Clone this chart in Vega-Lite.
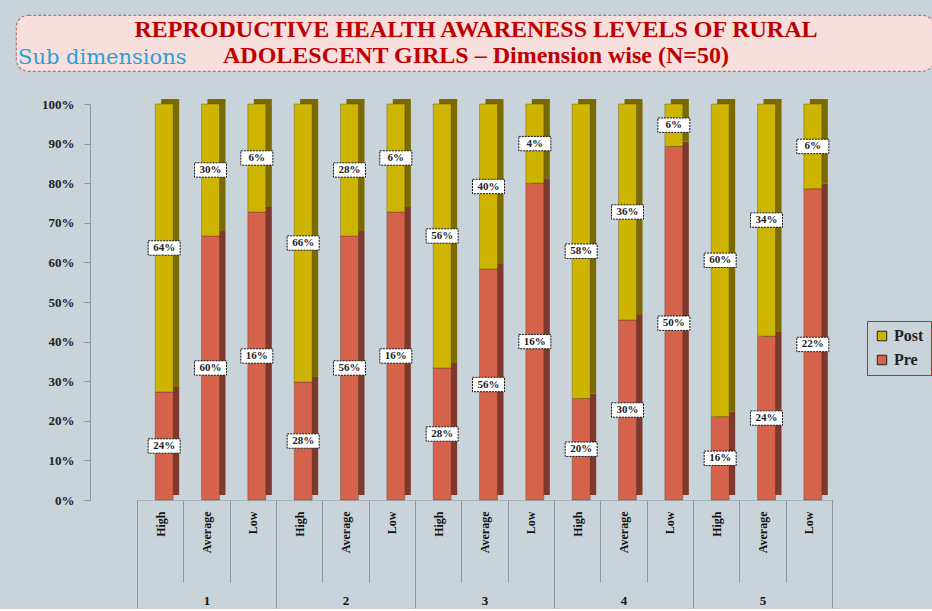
{
  "$schema": "https://vega.github.io/schema/vega-lite/v6.json",
  "background": "#c9d3da",
  "padding": {"left": 10, "top": 14, "right": 0, "bottom": 0},
  "spacing": 33,
  "bounds": "flush",
  "config": {"font": "Liberation Serif", "view": {"stroke": null}},
  "resolve": {"legend": {"color": "independent"}},
  "vconcat": [
    {
      "width": 918,
      "height": 56,
      "view": {"fill": "#f6dfdc", "stroke": "#b27474", "strokeDash": [3, 2], "strokeWidth": 1.2, "cornerRadius": 12},
      "title": {"text": "Sub dimensions", "orient": "bottom", "anchor": "start", "frame": "group", "offset": -24, "dx": 2, "font": "DejaVu Serif", "fontSize": 21, "fontWeight": "normal", "color": "#2b9fd5"},
      "data": {"values": [
        {"line": 1, "t": "REPRODUCTIVE HEALTH AWARENESS LEVELS OF RURAL"},
        {"line": 2, "t": "ADOLESCENT GIRLS – Dimension wise (N=50)"}
      ]},
      "mark": {"type": "text", "font": "Liberation Serif", "fontWeight": "bold", "fontSize": 24, "color": "#c00000", "baseline": "middle", "dx": 1},
      "encoding": {
        "y": {"field": "line", "type": "ordinal", "scale": {"type": "point", "padding": 0.55}, "axis": null},
        "text": {"field": "t"}
      }
    },
    {
      "width": 829,
      "height": 396,
      "data": {"values": [
        {"group": "1", "key": "1 High", "phase": "Pre", "value": 0.24},
        {"group": "1", "key": "1 High", "phase": "Post", "value": 0.64},
        {"group": "1", "key": "1 Average", "phase": "Pre", "value": 0.60},
        {"group": "1", "key": "1 Average", "phase": "Post", "value": 0.30},
        {"group": "1", "key": "1 Low", "phase": "Pre", "value": 0.16},
        {"group": "1", "key": "1 Low", "phase": "Post", "value": 0.06},
        {"group": "2", "key": "2 High", "phase": "Pre", "value": 0.28},
        {"group": "2", "key": "2 High", "phase": "Post", "value": 0.66},
        {"group": "2", "key": "2 Average", "phase": "Pre", "value": 0.56},
        {"group": "2", "key": "2 Average", "phase": "Post", "value": 0.28},
        {"group": "2", "key": "2 Low", "phase": "Pre", "value": 0.16},
        {"group": "2", "key": "2 Low", "phase": "Post", "value": 0.06},
        {"group": "3", "key": "3 High", "phase": "Pre", "value": 0.28},
        {"group": "3", "key": "3 High", "phase": "Post", "value": 0.56},
        {"group": "3", "key": "3 Average", "phase": "Pre", "value": 0.56},
        {"group": "3", "key": "3 Average", "phase": "Post", "value": 0.40},
        {"group": "3", "key": "3 Low", "phase": "Pre", "value": 0.16},
        {"group": "3", "key": "3 Low", "phase": "Post", "value": 0.04},
        {"group": "4", "key": "4 High", "phase": "Pre", "value": 0.20},
        {"group": "4", "key": "4 High", "phase": "Post", "value": 0.58},
        {"group": "4", "key": "4 Average", "phase": "Pre", "value": 0.30},
        {"group": "4", "key": "4 Average", "phase": "Post", "value": 0.36},
        {"group": "4", "key": "4 Low", "phase": "Pre", "value": 0.50},
        {"group": "4", "key": "4 Low", "phase": "Post", "value": 0.06},
        {"group": "5", "key": "5 High", "phase": "Pre", "value": 0.16},
        {"group": "5", "key": "5 High", "phase": "Post", "value": 0.60},
        {"group": "5", "key": "5 Average", "phase": "Pre", "value": 0.24},
        {"group": "5", "key": "5 Average", "phase": "Post", "value": 0.34},
        {"group": "5", "key": "5 Low", "phase": "Pre", "value": 0.22},
        {"group": "5", "key": "5 Low", "phase": "Post", "value": 0.06}
      ]},
      "layer": [
        {
          "encoding": {
            "x": {
              "field": "key", "type": "nominal", "sort": null,
              "scale": {"type": "band", "range": [121, 816], "paddingInner": 0, "paddingOuter": 0},
              "axis": {"title": null, "orient": "bottom", "labelExpr": "split(datum.label, ' ')[1]", "labelAngle": 270, "labelFont": "Liberation Serif", "labelFontWeight": "bold", "labelFontSize": 12, "labelColor": "#111", "labelPadding": -71, "tickBand": "extent", "tickSize": 82, "tickColor": "#8e979d", "domainColor": "#a9b2b8"}
            }
          },
          "layer": [
            {
              "mark": {"type": "bar", "width": 18, "xOffset": 10, "yOffset": -5, "y2Offset": -5},
              "encoding": {
                "y": {"field": "value", "type": "quantitative", "stack": "normalize", "scale": {"domain": [0, 1], "nice": false},
                  "axis": {"title": null, "orient": "left", "offset": -74, "format": ".0%", "values": [0, 0.1, 0.2, 0.3, 0.4, 0.5, 0.6, 0.7, 0.8, 0.9, 1], "grid": false, "domainColor": "#8e979d", "tickColor": "#8e979d", "tickSize": 6, "labelPadding": 10, "labelFont": "Liberation Serif", "labelFontWeight": "bold", "labelFontSize": 13, "labelColor": "#222"}},
                "order": {"field": "phase", "sort": "descending"},
                "color": {"condition": {"test": "datum.phase === 'Pre'", "value": "#7d3a2c"}, "value": "#7a6a00"}
              }
            },
            {
              "mark": {"type": "bar", "width": 18, "xOffset": 4, "stroke": "#3a2a20", "strokeWidth": 0.5, "strokeOpacity": 0.6},
              "encoding": {
                "y": {"field": "value", "type": "quantitative", "stack": "normalize",
                  "axis": {"title": null, "orient": "left", "offset": -74, "format": ".0%", "values": [0, 0.1, 0.2, 0.3, 0.4, 0.5, 0.6, 0.7, 0.8, 0.9, 1], "grid": false, "domainColor": "#8e979d", "tickColor": "#8e979d", "tickSize": 6, "labelPadding": 10, "labelFont": "Liberation Serif", "labelFontWeight": "bold", "labelFontSize": 13, "labelColor": "#222"}},
                "order": {"field": "phase", "sort": "descending"},
                "color": {"field": "phase", "type": "nominal", "scale": {"domain": ["Post", "Pre"], "range": ["#cdb400", "#d5634b"]},
                  "legend": {"title": null, "orient": "none", "legendX": 851, "legendY": 217, "strokeColor": "#d42020", "padding": 7, "symbolType": "square", "symbolSize": 90, "symbolStrokeColor": "#222", "symbolStrokeWidth": 1, "labelFont": "Liberation Serif", "labelFontWeight": "bold", "labelFontSize": 16, "labelColor": "#222", "rowPadding": 8}}
              }
            },
            {
              "transform": [
                {"stack": "value", "groupby": ["key"], "sort": [{"field": "phase", "order": "descending"}], "offset": "normalize", "as": ["v0", "v1"]},
                {"calculate": "(datum.v0 + datum.v1) / 2", "as": "mid"}
              ],
              "encoding": {"y": {"field": "mid", "type": "quantitative",
                "axis": {"title": null, "orient": "left", "offset": -74, "format": ".0%", "values": [0, 0.1, 0.2, 0.3, 0.4, 0.5, 0.6, 0.7, 0.8, 0.9, 1], "grid": false, "domainColor": "#8e979d", "tickColor": "#8e979d", "tickSize": 6, "labelPadding": 10, "labelFont": "Liberation Serif", "labelFontWeight": "bold", "labelFontSize": 13, "labelColor": "#222"}}},
              "layer": [
                {"mark": {"type": "point", "shape": "M-1,-0.45H1V0.45H-1Z", "size": 1024, "filled": true, "fill": "white", "stroke": "#111", "strokeWidth": 1, "strokeDash": [2, 1], "opacity": 1, "xOffset": 4}},
                {"mark": {"type": "text", "font": "Liberation Serif", "fontWeight": "bold", "fontSize": 11, "color": "#222", "xOffset": 4, "baseline": "middle"},
                  "encoding": {"text": {"field": "value", "format": ".0%"}}}
              ]
            }
          ]
        },
        {
          "mark": {"type": "tick", "opacity": 0},
          "encoding": {
            "x": {
              "field": "group", "type": "nominal", "sort": null,
              "scale": {"type": "band", "range": [121, 816], "paddingInner": 0, "paddingOuter": 0},
              "axis": {"title": null, "orient": "bottom", "labelAngle": 0, "labelFont": "Liberation Serif", "labelFontWeight": "bold", "labelFontSize": 13, "labelColor": "#111", "tickBand": "extent", "tickSize": 108, "tickColor": "#8e979d", "domain": false, "labelPadding": -14}
            }
          }
        }
      ],
      "resolve": {"scale": {"x": "independent"}, "axis": {"x": "independent"}}
    }
  ]
}
